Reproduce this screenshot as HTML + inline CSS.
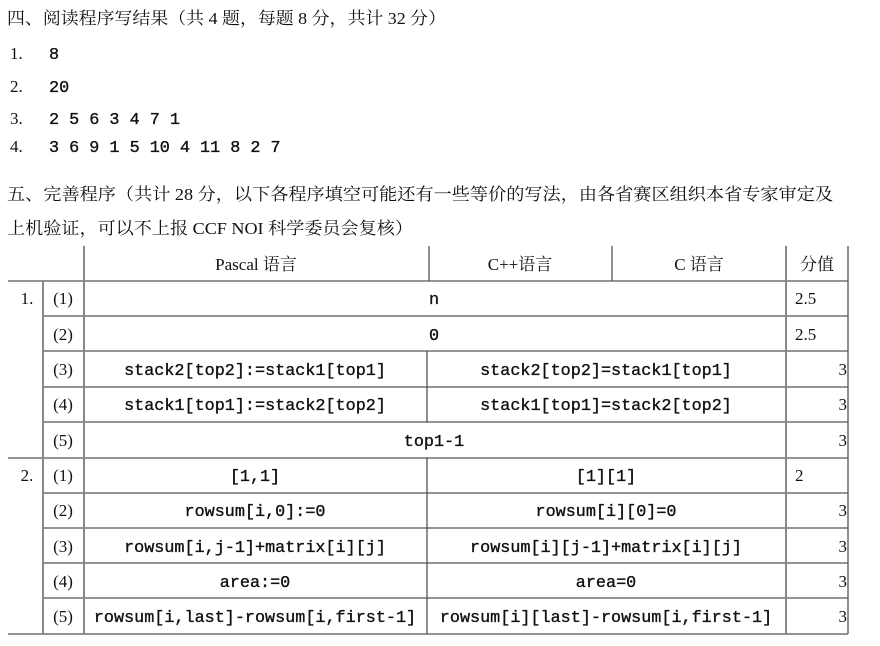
<!DOCTYPE html>
<html><head><meta charset="utf-8"><style>
html,body{margin:0;padding:0;background:#fff;width:880px;height:646px;overflow:hidden}
svg{display:block}
.s{font-family:"Liberation Serif","Noto Serif CJK SC","Noto Sans CJK SC",serif;font-size:17px;fill:#111}
.m{font-family:"Liberation Mono",monospace;font-size:16.8px;fill:#111;stroke:#111;stroke-width:0.35}
</style></head><body>
<svg width="880" height="646" xmlns="http://www.w3.org/2000/svg">
<text class="s" x="7" y="24" textLength="439" lengthAdjust="spacingAndGlyphs">四、阅读程序写结果（共 4 题，每题 8 分，共计 32 分）</text>
<text class="s" x="10" y="59">1.</text><text class="m" x="49" y="59">8</text>
<text class="s" x="10" y="92">2.</text><text class="m" x="49" y="92">20</text>
<text class="s" x="10" y="124">3.</text><text class="m" x="49" y="124">2 5 6 3 4 7 1</text>
<text class="s" x="10" y="152">4.</text><text class="m" x="49" y="152">3 6 9 1 5 10 4 11 8 2 7</text>
<text class="s" x="7" y="200" textLength="826" lengthAdjust="spacingAndGlyphs">五、完善程序（共计 28 分，以下各程序填空可能还有一些等价的写法，由各省赛区组织本省专家审定及</text>
<text class="s" x="7" y="234" textLength="406" lengthAdjust="spacingAndGlyphs">上机验证，可以不上报 CCF NOI 科学委员会复核）</text>
<g stroke="#555" stroke-width="1.3" fill="none">
<line x1="8" y1="281" x2="848" y2="281"/>
<line x1="8" y1="458" x2="848" y2="458"/>
<line x1="8" y1="634" x2="848" y2="634"/>
<line x1="43" y1="316" x2="848" y2="316"/>
<line x1="43" y1="351" x2="848" y2="351"/>
<line x1="43" y1="387" x2="848" y2="387"/>
<line x1="43" y1="422" x2="848" y2="422"/>
<line x1="43" y1="493" x2="848" y2="493"/>
<line x1="43" y1="528" x2="848" y2="528"/>
<line x1="43" y1="563" x2="848" y2="563"/>
<line x1="43" y1="598" x2="848" y2="598"/>
<line x1="43" y1="281" x2="43" y2="634" stroke="#888" stroke-width="2"/>
<line x1="84" y1="246" x2="84" y2="634" stroke="#888" stroke-width="2"/>
<line x1="429" y1="246" x2="429" y2="281"/>
<line x1="612" y1="246" x2="612" y2="281"/>
<line x1="427" y1="351" x2="427" y2="422"/>
<line x1="427" y1="458" x2="427" y2="634"/>
<line x1="786" y1="246" x2="786" y2="634" stroke="#888" stroke-width="2"/>
<line x1="848" y1="246" x2="848" y2="634"/>
</g>
<g class="s" text-anchor="middle">
<text x="256" y="270">Pascal 语言</text>
<text x="520" y="270">C++语言</text>
<text x="699" y="270">C 语言</text>
<text x="817" y="270">分值</text>
<text x="27" y="304">1.</text>
<text x="27" y="481">2.</text>
<text x="63" y="304">(1)</text><text x="63" y="340">(2)</text><text x="63" y="375">(3)</text><text x="63" y="410">(4)</text><text x="63" y="446">(5)</text>
<text x="63" y="481">(1)</text><text x="63" y="516">(2)</text><text x="63" y="552">(3)</text><text x="63" y="587">(4)</text><text x="63" y="622">(5)</text>
</g>
<g class="s">
<text x="795" y="304">2.5</text><text x="795" y="340">2.5</text><text x="795" y="481">2</text>
</g>
<g class="s" text-anchor="end">
<text x="847" y="375">3</text><text x="847" y="410">3</text><text x="847" y="446">3</text>
<text x="847" y="516">3</text><text x="847" y="552">3</text><text x="847" y="587">3</text><text x="847" y="622">3</text>
</g>
<g class="m" text-anchor="middle">
<text x="434" y="304">n</text>
<text x="434" y="340">0</text>
<text x="255" y="375">stack2[top2]:=stack1[top1]</text>
<text x="606" y="375">stack2[top2]=stack1[top1]</text>
<text x="255" y="410">stack1[top1]:=stack2[top2]</text>
<text x="606" y="410">stack1[top1]=stack2[top2]</text>
<text x="434" y="446">top1-1</text>
<text x="255" y="481">[1,1]</text>
<text x="606" y="481">[1][1]</text>
<text x="255" y="516">rowsum[i,0]:=0</text>
<text x="606" y="516">rowsum[i][0]=0</text>
<text x="255" y="552">rowsum[i,j-1]+matrix[i][j]</text>
<text x="606" y="552">rowsum[i][j-1]+matrix[i][j]</text>
<text x="255" y="587">area:=0</text>
<text x="606" y="587">area=0</text>
<text x="255" y="622">rowsum[i,last]-rowsum[i,first-1]</text>
<text x="606" y="622">rowsum[i][last]-rowsum[i,first-1]</text>
</g>
</svg>
</body></html>
